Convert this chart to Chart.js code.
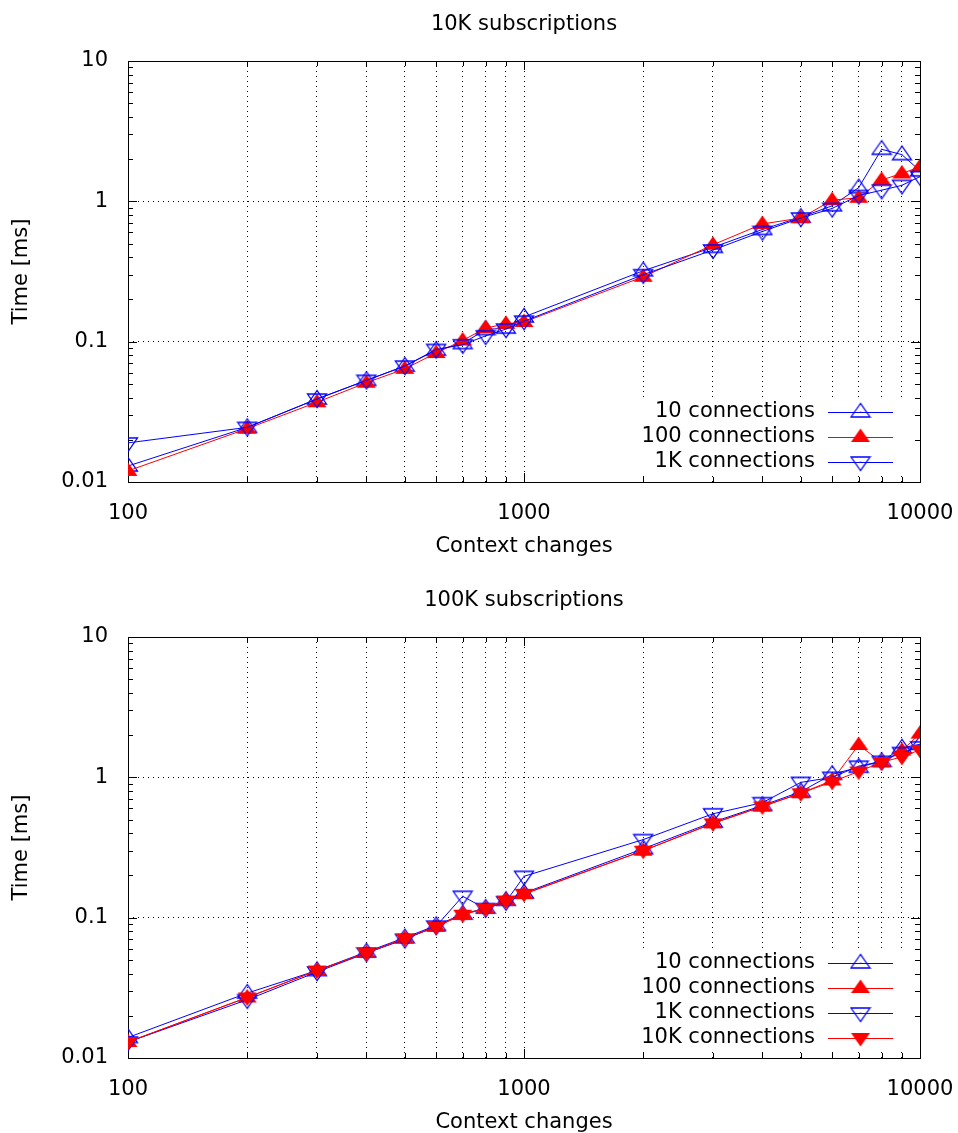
<!DOCTYPE html>
<html>
<head>
<meta charset="utf-8">
<title>Context changes</title>
<script src="https://cdn.jsdelivr.net/npm/chart.js@4.4.0/dist/chart.umd.min.js"></script>
<style>
  html, body { margin: 0; padding: 0; background: #fff; }
  .plot { position: absolute; left: 0; width: 958px; height: 559px; }
  #top { top: 0; }
  #bottom { top: 576px; }
</style>
</head>
<body>
<div class="plot" id="top"><canvas id="chart10k" width="958" height="559"></canvas></div>
<div class="plot" id="bottom"><canvas id="chart100k" width="958" height="559"></canvas></div>
<script>
// x values (context changes) shared by every series
const contextChanges = [100, 200, 300, 400, 500, 600, 700, 800, 900, 1000,
                        2000, 3000, 4000, 5000, 6000, 7000, 8000, 9000, 10000];

// 10K subscriptions, time in ms
const sub10kConn10  = [0.013, 0.0245, 0.039, 0.053, 0.067, 0.087, 0.097, 0.122, 0.125, 0.15,
                       0.32, 0.47, 0.63, 0.77, 0.93, 1.25, 2.35, 2.15, 1.65];
const sub10kConn100 = [0.012, 0.024, 0.037, 0.051, 0.064, 0.083, 0.102, 0.125, 0.134, 0.138,
                       0.29, 0.49, 0.69, 0.76, 1.02, 1.06, 1.42, 1.58, 1.76];
const sub10kConn1k  = [0.019, 0.0245, 0.039, 0.053, 0.067, 0.088, 0.095, 0.11, 0.123, 0.14,
                       0.30, 0.45, 0.61, 0.76, 0.89, 1.1, 1.2, 1.3, 1.5];

// 100K subscriptions, time in ms
const sub100kConn10  = [0.014, 0.029, 0.042, 0.057, 0.072, 0.088, 0.106, 0.117, 0.133, 0.15,
                        0.31, 0.48, 0.63, 0.79, 1.05, 1.18, 1.3, 1.62, 1.72];
const sub100kConn100 = [0.013, 0.027, 0.042, 0.056, 0.071, 0.086, 0.106, 0.116, 0.133, 0.147,
                        0.30, 0.47, 0.62, 0.77, 0.95, 1.7, 1.28, 1.55, 2.05];
const sub100kConn1k  = [0.013, 0.026, 0.041, 0.056, 0.070, 0.087, 0.142, 0.116, 0.130, 0.197,
                        0.36, 0.55, 0.66, 0.92, 1.0, 1.2, 1.3, 1.5, 1.65];
const sub100kConn10k = [0.013, 0.027, 0.042, 0.056, 0.071, 0.086, 0.105, 0.116, 0.132, 0.148,
                        0.30, 0.47, 0.62, 0.77, 0.93, 1.1, 1.28, 1.4, 1.57];

const seriesNames = ['10 connections', '100 connections', '1K connections', '10K connections'];

// tick positions and the labels shown at the decades
const xTicks = [100, 200, 300, 400, 500, 600, 700, 800, 900, 1000,
                2000, 3000, 4000, 5000, 6000, 7000, 8000, 9000, 10000];
const xTickLabels = ['100', '1000', '10000'];
const yTicks = [0.01, 0.02, 0.03, 0.04, 0.05, 0.06, 0.07, 0.08, 0.09,
                0.1, 0.2, 0.3, 0.4, 0.5, 0.6, 0.7, 0.8, 0.9,
                1, 2, 3, 4, 5, 6, 7, 8, 9, 10];
const yTickLabels = ['0.01', '0.1', '1', '10'];

const FONT = 'DejaVu Sans';
const FONT_SIZE = 21;
const BLUE = '#0000ff';
const RED = '#ff0000';

const isDecade = v => Math.abs(Math.log10(v) - Math.round(Math.log10(v))) < 1e-9;

// gnuplot-like triangle markers
function makeMarker(dir, filled, color) {
    const c = document.createElement('canvas');
    c.width = 22;
    c.height = 22;
    const g = c.getContext('2d');
    const s = dir === 'up' ? 1 : -1;
    g.beginPath();
    g.moveTo(11, 11 - 8.5 * s);
    g.lineTo(1.5, 11 + 5 * s);
    g.lineTo(20.5, 11 + 5 * s);
    g.closePath();
    if (filled) {
        g.fillStyle = color;
        g.fill();
    } else {
        g.strokeStyle = color;
        g.lineWidth = 1.3;
        g.stroke();
        g.fillStyle = color;
        g.fillRect(10.5, 10.5, 1, 1);
    }
    return c;
}

const markers = [
    makeMarker('up', false, BLUE),
    makeMarker('up', true, RED),
    makeMarker('down', false, BLUE),
    makeMarker('down', true, RED)
];
const colors = [BLUE, RED, BLUE, RED];

// key row position, counted up from the bottom of the plot
const keyRowY = (a, n, i) => Math.round(a.bottom - 20.5 - 24.7 * (n - 1 - i));

// title centred over the plot area (gnuplot style), opaque key box, border + inward ticks
const gnuplotFrame = {
    id: 'gnuplotFrame',
    beforeDatasetsDraw(chart, args, opts) {
        const { ctx, chartArea: a, scales: { x, y } } = chart;
        const n = chart.data.datasets.length;
        ctx.save();
        ctx.fillStyle = '#000';
        ctx.font = FONT_SIZE + 'px "' + FONT + '"';
        ctx.textAlign = 'center';
        ctx.textBaseline = 'middle';
        ctx.fillText(opts.title, (a.left + a.right) / 2, a.top - 36);

        // key background covers the grid
        const keyTop = keyRowY(a, n, 0) - 15;
        ctx.fillStyle = '#fff';
        ctx.fillRect(a.right - 290, keyTop, 275, a.bottom - 8 - keyTop);

        ctx.strokeStyle = '#000';
        ctx.lineWidth = 1;
        ctx.beginPath();
        xTicks.forEach(v => {
            const px = Math.round(x.getPixelForValue(v)) + 0.5;
            const len = isDecade(v) ? 9 : 5;
            ctx.moveTo(px, a.bottom);
            ctx.lineTo(px, a.bottom - len);
            ctx.moveTo(px, a.top);
            ctx.lineTo(px, a.top + len);
        });
        yTicks.forEach(v => {
            const py = Math.round(y.getPixelForValue(v)) + 0.5;
            const len = isDecade(v) ? 9 : 5;
            ctx.moveTo(a.left, py);
            ctx.lineTo(a.left + len, py);
            ctx.moveTo(a.right, py);
            ctx.lineTo(a.right - len, py);
        });
        ctx.stroke();
        ctx.strokeRect(a.left + 0.5, a.top + 0.5, a.right - a.left, a.bottom - a.top);
        ctx.restore();
    }
};

// key in the bottom right corner, text then line sample with marker
const gnuplotKey = {
    id: 'gnuplotKey',
    afterDatasetsDraw(chart) {
        const { ctx, chartArea: a } = chart;
        const sets = chart.data.datasets;
        ctx.save();
        ctx.font = FONT_SIZE + 'px "' + FONT + '"';
        ctx.textAlign = 'right';
        ctx.textBaseline = 'middle';
        sets.forEach((ds, i) => {
            const yy = keyRowY(a, sets.length, i);
            ctx.fillStyle = '#000';
            ctx.fillText(ds.label, a.right - 105, yy);
            ctx.strokeStyle = ds.borderColor;
            ctx.lineWidth = 1;
            ctx.beginPath();
            ctx.moveTo(a.right - 92, yy + 0.5);
            ctx.lineTo(a.right - 27, yy + 0.5);
            ctx.stroke();
            const m = ds.pointStyle;
            ctx.drawImage(m, a.right - 59.5 - m.width / 2, yy - m.height / 2);
        });
        ctx.restore();
    }
};

function makeDatasets(seriesList) {
    return seriesList.map((vals, i) => ({
        label: seriesNames[i],
        data: contextChanges.map((c, j) => ({ x: c, y: vals[j] })),
        borderColor: colors[i],
        backgroundColor: colors[i],
        borderWidth: 1,
        pointStyle: markers[i],
        pointRadius: 6,
        order: seriesList.length - i,
        tension: 0
    }));
}

function makeOptions(title) {
    const tickFont = { family: FONT, size: FONT_SIZE };
    return {
        responsive: false,
        animation: false,
        layout: { padding: { left: 0, right: 38, top: 61, bottom: 0 } },
        plugins: {
            legend: { display: false },
            tooltip: { enabled: false },
            title: { display: false },
            gnuplotFrame: { title: title }
        },
        scales: {
            x: {
                type: 'logarithmic',
                min: 100,
                max: 10000,
                afterBuildTicks: s => { s.ticks = xTicks.map(v => ({ value: v })); },
                afterFit: s => { s.height = 77; s.paddingLeft = 0; s.paddingRight = 0; },
                grid: {
                    drawTicks: false,
                    lineWidth: 1,
                    color: c => (c.tick && c.tick.value > 100 && c.tick.value < 10000) ? '#000' : 'rgba(0,0,0,0)'
                },
                border: { display: false, dash: [1, 4] },
                ticks: {
                    autoSkip: false,
                    maxRotation: 0,
                    padding: 19,
                    color: '#000',
                    font: tickFont,
                    callback: v => isDecade(v) ? xTickLabels[Math.round(Math.log10(v)) - 2] : ''
                },
                title: {
                    display: true,
                    text: 'Context changes',
                    color: '#000',
                    font: tickFont,
                    padding: { top: 0, bottom: 0 }
                }
            },
            y: {
                type: 'logarithmic',
                min: 0.01,
                max: 10,
                afterBuildTicks: s => { s.ticks = yTicks.map(v => ({ value: v })); },
                afterFit: s => { s.width = 128; s.paddingTop = 0; s.paddingBottom = 0; },
                grid: {
                    drawTicks: false,
                    lineWidth: 1,
                    color: c => (c.tick && isDecade(c.tick.value) && c.tick.value > 0.01 && c.tick.value < 10) ? '#000' : 'rgba(0,0,0,0)'
                },
                border: { display: false, dash: [1, 4] },
                ticks: {
                    autoSkip: false,
                    padding: 20,
                    color: '#000',
                    font: tickFont,
                    callback: v => isDecade(v) ? yTickLabels[Math.round(Math.log10(v)) + 2] : ''
                },
                title: {
                    display: true,
                    text: 'Time [ms]',
                    color: '#000',
                    font: tickFont,
                    padding: { top: 9, bottom: 0 }
                }
            }
        }
    };
}

new Chart(document.getElementById('chart10k'), {
    type: 'line',
    data: { datasets: makeDatasets([sub10kConn10, sub10kConn100, sub10kConn1k]) },
    options: makeOptions('10K subscriptions'),
    plugins: [gnuplotFrame, gnuplotKey]
});

new Chart(document.getElementById('chart100k'), {
    type: 'line',
    data: { datasets: makeDatasets([sub100kConn10, sub100kConn100, sub100kConn1k, sub100kConn10k]) },
    options: makeOptions('100K subscriptions'),
    plugins: [gnuplotFrame, gnuplotKey]
});
</script>
</body>
</html>
